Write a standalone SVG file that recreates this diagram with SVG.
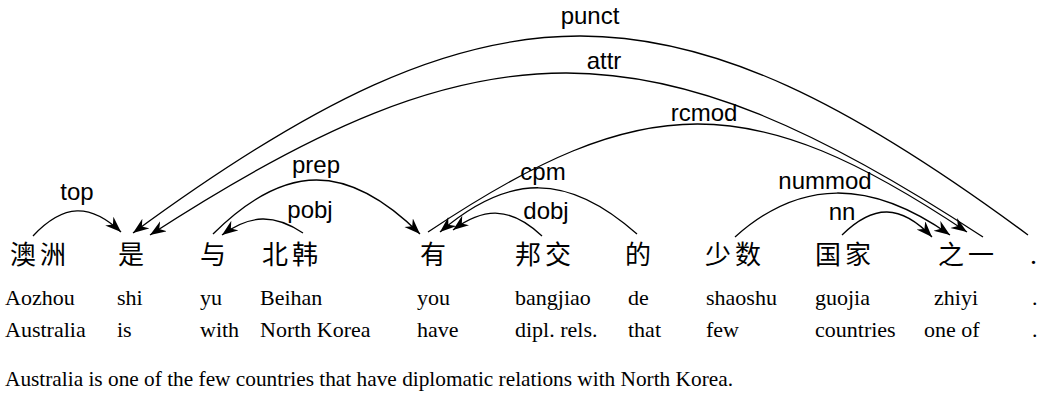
<svg xmlns="http://www.w3.org/2000/svg" width="1039" height="402" viewBox="0 0 1039 402">
  <style>
    .zh { font-family: "Noto Sans CJK SC", "Noto Sans CJK TC", sans-serif; font-size: 26px; letter-spacing: 4px; fill: #000; }
    .rm { font-family: "Liberation Serif", "Times New Roman", serif; font-size: 22px; fill: #000; }
    .dot { font-family: "Liberation Serif", "Times New Roman", serif; font-size: 28px; fill: #000; }
    .lbl { font-family: "Liberation Sans", Arial, sans-serif; font-size: 24px; fill: #000; text-anchor: middle; }
    .arc { fill: none; stroke: #000; stroke-width: 1.3; marker-end: url(#head); }
  </style>
  <defs>
    <marker id="head" markerUnits="userSpaceOnUse" markerWidth="17" markerHeight="13" refX="16" refY="6" orient="auto">
      <path d="M0,0 L16,6 L0,12 L5,6 Z" fill="#000"/>
    </marker>
  </defs>
  <rect width="1039" height="402" fill="#fff"/>

  <!-- word columns: hanzi / pinyin / gloss -->
  <g id="w-aozhou">
    <text class="zh" x="10" y="264">澳洲</text>
    <text class="rm" x="5" y="305">Aozhou</text>
    <text class="rm" x="5" y="337">Australia</text>
  </g>
  <g id="w-shi">
    <text class="zh" x="118" y="264">是</text>
    <text class="rm" x="117" y="305">shi</text>
    <text class="rm" x="117" y="337">is</text>
  </g>
  <g id="w-yu">
    <text class="zh" x="200" y="264">与</text>
    <text class="rm" x="200" y="305">yu</text>
    <text class="rm" x="200" y="337">with</text>
  </g>
  <g id="w-beihan">
    <text class="zh" x="262" y="264">北韩</text>
    <text class="rm" x="260" y="305">Beihan</text>
    <text class="rm" x="260" y="337">North Korea</text>
  </g>
  <g id="w-you">
    <text class="zh" x="420" y="264">有</text>
    <text class="rm" x="417" y="305">you</text>
    <text class="rm" x="417" y="337">have</text>
  </g>
  <g id="w-bangjiao">
    <text class="zh" x="515" y="264">邦交</text>
    <text class="rm" x="515" y="305">bangjiao</text>
    <text class="rm" x="515" y="337">dipl. rels.</text>
  </g>
  <g id="w-de">
    <text class="zh" x="625" y="264">的</text>
    <text class="rm" x="628" y="305">de</text>
    <text class="rm" x="628" y="337">that</text>
  </g>
  <g id="w-shaoshu">
    <text class="zh" x="705" y="264">少数</text>
    <text class="rm" x="706" y="305">shaoshu</text>
    <text class="rm" x="706" y="337">few</text>
  </g>
  <g id="w-guojia">
    <text class="zh" x="815" y="264">国家</text>
    <text class="rm" x="815" y="305">guojia</text>
    <text class="rm" x="815" y="337">countries</text>
  </g>
  <g id="w-zhiyi">
    <text class="zh" x="938" y="264">之一</text>
    <text class="rm" x="934" y="305">zhiyi</text>
    <text class="rm" x="924" y="337">one of</text>
  </g>
  <g id="w-period">
    <text class="dot" x="1030" y="264">.</text>
    <text class="rm" x="1032" y="305">.</text>
    <text class="rm" x="1032" y="337">.</text>
  </g>

  <!-- dependency arcs -->
  <g id="connectors">
    <path class="arc" d="M33,236 C63.8,203.3 90.2,203.3 121,232"/>
    <path class="arc" d="M213,234 C285.5,162 347.5,162 420,234"/>
    <path class="arc" d="M303,233 C274.6,214 250.4,214 222,235"/>
    <path class="arc" d="M1028,235 C670,-30 491,-30 133,233"/>
    <path class="arc" d="M983,237 C649.8,18.7 483.2,18.7 150,235"/>
    <path class="arc" d="M428,232 C643.6,88 751.4,88 967,232"/>
    <path class="arc" d="M637,234 C568,172.7 509,172.7 440,232"/>
    <path class="arc" d="M542,236 C510.8,206.7 484.2,206.7 453,230"/>
    <path class="arc" d="M735,237 C800,178.7 870,178.7 950,235"/>
    <path class="arc" d="M842,235 C873.5,204 900.5,204 932,237"/>

    <text class="lbl" x="590" y="24">punct</text>
    <text class="lbl" x="604" y="69">attr</text>
    <text class="lbl" x="704" y="121">rcmod</text>
    <text class="lbl" x="316" y="173">prep</text>
    <text class="lbl" x="543" y="180">cpm</text>
    <text class="lbl" x="825" y="189">nummod</text>
    <text class="lbl" x="77" y="200">top</text>
    <text class="lbl" x="310" y="218">pobj</text>
    <text class="lbl" x="546" y="219">dobj</text>
    <text class="lbl" x="842" y="220">nn</text>
  </g>

  <text class="rm" x="5" y="386" textLength="728" lengthAdjust="spacingAndGlyphs">Australia is one of the few countries that have diplomatic relations with North Korea.</text>
</svg>
